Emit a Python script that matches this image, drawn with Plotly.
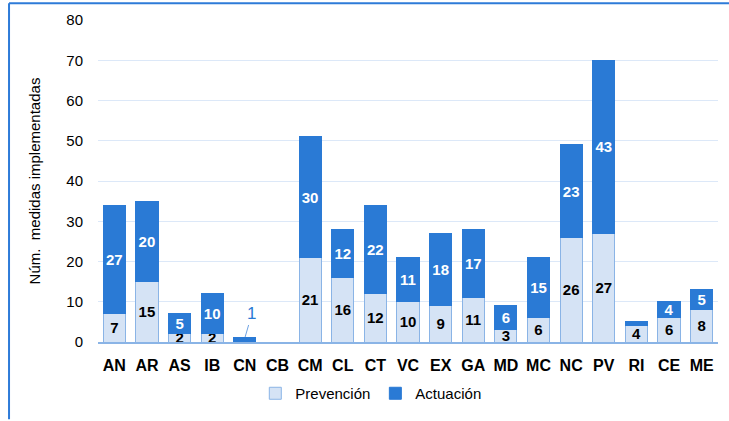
import plotly.graph_objects as go

categories = ["AN", "AR", "AS", "IB", "CN", "CB", "CM", "CL", "CT", "VC",
              "EX", "GA", "MD", "MC", "NC", "PV", "RI", "CE", "ME"]
prevencion = [7, 15, 2, 2, 0, 0, 21, 16, 12, 10, 9, 11, 3, 6, 26, 27, 4, 6, 8]
actuacion = [27, 20, 5, 10, 1, 0, 30, 12, 22, 11, 18, 17, 6, 15, 23, 43, 1, 4, 5]

FONT = "Liberation Sans Narrow, Arial Narrow, Liberation Sans, Arial, sans-serif"
LIGHT = "#D5E3F5"
LIGHT_EDGE = "#8AB4E6"
DARK = "#2A7AD5"

prev_text = [str(v) if v > 0 else "" for v in prevencion]
act_text = [str(v) if v > 1 else "" for v in actuacion]

fig = go.Figure()
fig.add_trace(go.Bar(
    x=categories, y=prevencion, name="Prevención",
    marker=dict(color=LIGHT, line=dict(color=LIGHT_EDGE, width=1)),
    text=prev_text, textposition="inside", insidetextanchor="middle", textangle=0,
    textfont=dict(color="black", size=15, family=FONT, weight="bold"),
    cliponaxis=False,
))
fig.add_trace(go.Bar(
    x=categories, y=actuacion, name="Actuación",
    marker=dict(color=DARK, line=dict(color=DARK, width=1)),
    text=act_text, textposition="inside", insidetextanchor="middle", textangle=0,
    textfont=dict(color="white", size=15, family=FONT, weight="bold"),
    cliponaxis=False,
))

# CN label with leader line
fig.add_annotation(x="CN", y=actuacion[4], text=str(actuacion[4]), showarrow=True,
                   arrowhead=0, arrowwidth=1, arrowcolor="#6FA3E3",
                   ax=7, ay=-24, font=dict(color="#2A7AD5", size=17, family=FONT),
                   standoff=1)

shapes = [
    dict(type="line", xref="paper", yref="paper", x0=-0.1435, x1=1.02, y0=1.052, y1=1.052,
         line=dict(color="#2E7BD8", width=2)),
    dict(type="line", xref="paper", yref="paper", x0=-0.1435, x1=-0.1435, y0=1.052, y1=-0.24,
         line=dict(color="#2E7BD8", width=2)),
]

fig.update_layout(
    width=729, height=421,
    margin=dict(l=98, r=11, t=20, b=75),
    plot_bgcolor="white", paper_bgcolor="white",
    barmode="stack", bargap=0.32,
    font=dict(family=FONT, size=14, color="black"),
    uniformtext=dict(minsize=15, mode="show"),
    showlegend=True,
    legend=dict(orientation="h", x=0.44, xanchor="center", y=-0.16, yanchor="middle",
                font=dict(size=15, family=FONT), itemwidth=30, traceorder="normal",
                bgcolor="rgba(0,0,0,0)"),
    shapes=shapes,
    xaxis=dict(showline=True, linecolor=LIGHT_EDGE, linewidth=1.5, ticks="",
               tickfont=dict(size=16, family=FONT, weight="bold", color="black"),
               ticklabelstandoff=8, showgrid=False),
    yaxis=dict(range=[0, 80], dtick=10, showgrid=True, gridcolor="#DCE8F8", gridwidth=1,
               showline=False, zeroline=False, ticks="",
               tickfont=dict(size=15, family=FONT, color="black"),
               ticklabelstandoff=14,
               title=dict(text="Núm.  medidas implementadas", standoff=22,
                          font=dict(size=15, family=FONT, color="black"))),
)

fig.write_html("out.html")
